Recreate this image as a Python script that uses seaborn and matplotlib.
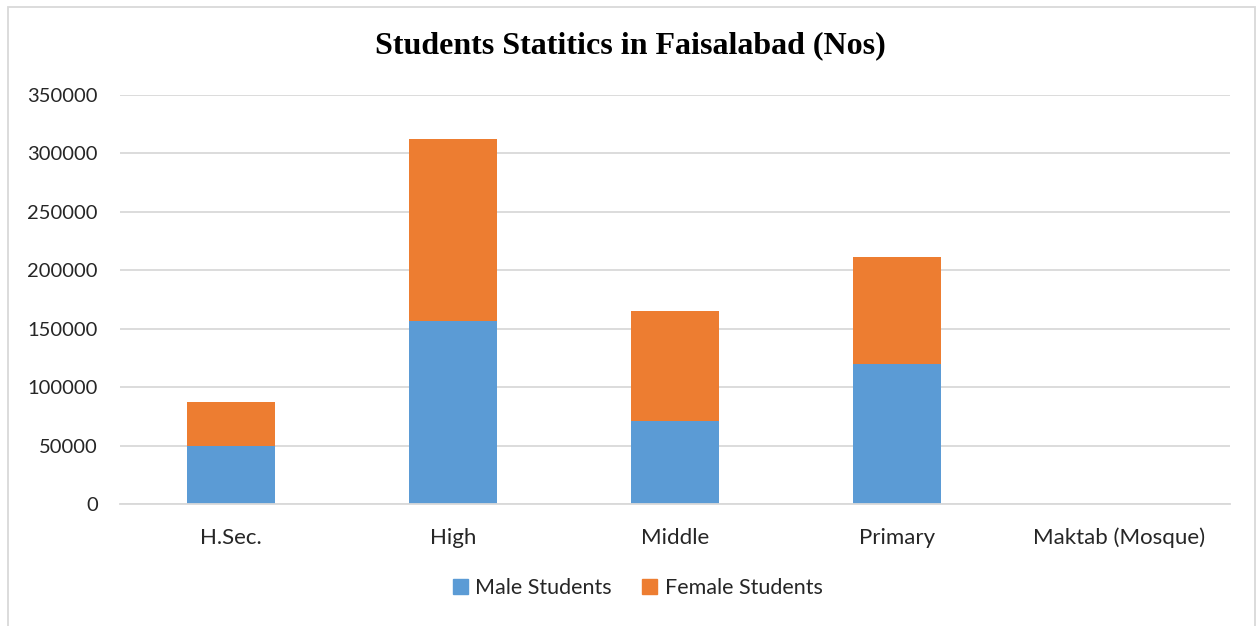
import numpy as np
import pandas as pd
import matplotlib
matplotlib.use("Agg")
import matplotlib.pyplot as plt
import seaborn as sns
from matplotlib.patches import Patch, Rectangle

# datos
categorias = ["H.Sec.", "High", "Middle", "Primary", "Maktab (Mosque)"]
hombres = [50000, 156500, 71000, 119500, 0]
mujeres = [37000, 155800, 94200, 91800, 0]

df = pd.DataFrame({"Nivel": categorias, "Male Students": hombres, "Female Students": mujeres})
df["Total"] = df["Male Students"] + df["Female Students"]

azul = "#5B9BD5"
naranja = "#ED7D31"
gris = "#D9D9D9"

sns.set_theme(style="white")
plt.rcParams["font.family"] = ["Lato", "DejaVu Sans"]

fig = plt.figure(figsize=(12.6, 6.26), dpi=100)
ax = fig.add_axes([120 / 1260, 1 - 504 / 626, 1110 / 1260, 409 / 626])

# barras apiladas: total (naranja) y encima los hombres (azul)
sns.barplot(data=df, x="Nivel", y="Total", color=naranja, width=0.4, saturation=1,
            linewidth=0, ax=ax)
sns.barplot(data=df, x="Nivel", y="Male Students", color=azul, width=0.4, saturation=1,
            linewidth=0, ax=ax)

ax.set_ylim(0, 350000)
ax.set_yticks(np.arange(0, 350001, 50000))
ax.set_xlim(-0.5, len(categorias) - 0.5)
ax.yaxis.grid(True, color=gris, linewidth=1.3)
ax.set_axisbelow(True)
for s in ["top", "right", "left"]:
    ax.spines[s].set_visible(False)
ax.spines["bottom"].set_color(gris)
ax.spines["bottom"].set_linewidth(1.3)
ax.tick_params(axis="both", length=0, colors="#262626")
ax.tick_params(axis="y", labelsize=14.5, pad=16)
ax.tick_params(axis="x", labelsize=16, pad=17)
ax.set_xlabel("")
ax.set_ylabel("")

fig.text(0.5, 1 - 46 / 626, "Students Statitics in Faisalabad (Nos)", ha="center", va="center",
         fontsize=23, fontweight="bold", family="Liberation Serif", color="black")

handles = [Patch(color=azul, label="Male Students"), Patch(color=naranja, label="Female Students")]
fig.legend(handles=handles, loc="center", bbox_to_anchor=(0.506, 1 - 588 / 626), ncol=2,
           frameon=False, fontsize=15.5, handlelength=0.7, handleheight=0.7,
           handletextpad=0.35, columnspacing=1.4)

# borde del area del grafico
fig.patches.append(Rectangle((8 / 1260, -0.05), 1247 / 1260, 1.05 - 7 / 626, transform=fig.transFigure,
                             fill=False, edgecolor=gris, linewidth=1.3))

fig.savefig("out.png", dpi=100)
